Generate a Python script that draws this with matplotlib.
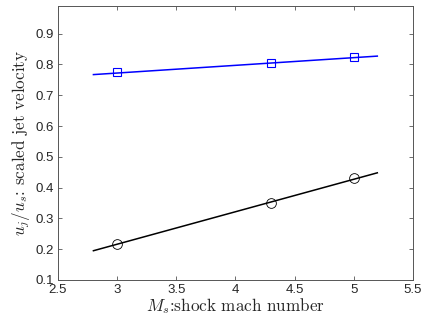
import matplotlib
matplotlib.use('Agg')
import matplotlib.pyplot as plt

# measured points
mach = [3.0, 4.3, 5.0]
blue_vals = [0.774, 0.804, 0.823]
black_vals = [0.218, 0.350, 0.431]

fit_x = [2.8, 5.2]
blue_fit = [0.767, 0.827]
black_fit = [0.195, 0.448]

xticks = [2.5, 3, 3.5, 4, 4.5, 5, 5.5]
yticks = [0.1, 0.2, 0.3, 0.4, 0.5, 0.6, 0.7, 0.8, 0.9]

plt.rcParams['font.family'] = ['Liberation Sans', 'DejaVu Sans']
plt.rcParams['mathtext.fontset'] = 'cm'

fig = plt.figure(figsize=(4.26, 3.29), dpi=100)
ax = fig.add_axes([0.136, 0.149, 0.833, 0.833])

ax.plot(fit_x, blue_fit, color='blue', lw=1.1)
ax.plot(mach, blue_vals, 's', mfc='none', mec='blue', ms=6, mew=0.8)
ax.plot(fit_x, black_fit, color='black', lw=1.1)
ax.plot(mach, black_vals, 'o', mfc='none', mec='black', ms=7, mew=0.6)

ax.set_xlim(2.5, 5.5)
ax.set_ylim(0.1, 0.99)
ax.set_xticks(xticks)
ax.set_xticklabels([f'{v:g}' for v in xticks])
ax.set_yticks(yticks)
ax.set_yticklabels([f'{v:g}' for v in yticks])

grey = '#262626'
ax.tick_params(direction='in', length=3, width=0.6, top=True, right=True,
               colors='#555555', labelcolor=grey, labelsize=9.5, pad=3)
for s in ax.spines.values():
    s.set_color('#555555')
    s.set_linewidth(0.7)

ax.set_xlabel(r'$M_s$:shock mach number', family='cmr10', fontsize=12.3,
              color=grey, labelpad=0)
ax.set_ylabel(r'$u_j/u_s$: scaled jet velocity', family='cmr10', fontsize=12.3,
              color=grey, labelpad=2)

fig.savefig('out.png', dpi=100)
